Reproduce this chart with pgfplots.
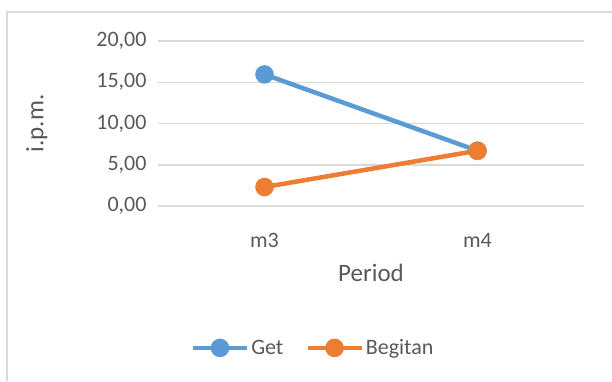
\documentclass[border=0pt]{standalone}
\usepackage{pgfplots}
\pgfplotsset{compat=1.18}
\usepackage{fontspec}
\setmainfont{Carlito}
\definecolor{txt}{HTML}{595959}
\definecolor{gridc}{HTML}{D9D9D9}
\definecolor{sblue}{HTML}{5B9BD5}
\definecolor{sorange}{HTML}{ED7D31}
\begin{document}
\begin{tikzpicture}
\useasboundingbox (0pt,0pt) rectangle (612pt,381pt);
\draw[gridc,line width=1.5pt] (7pt,0pt) -- (7pt,369pt) -- (612pt,369pt);
\begin{axis}[
  at={(158pt,175pt)}, anchor=south west,
  scale only axis, width=426pt, height=165pt,
  xmin=-0.5, xmax=1.5, ymin=0, ymax=20,
  xtick={0,1}, xticklabels={m3,m4},
  ytick={0,5,10,15,20},
  axis line style={draw=none},
  major tick length=0pt,
  ymajorgrids, grid style={gridc,line width=1.5pt},
  tick label style={font=\fontsize{22}{24}\selectfont, text=txt},
  yticklabel style={xshift=-8pt, /pgf/number format/.cd, fixed, fixed zerofill, precision=2, use comma, assume math mode=true},
  xticklabel style={yshift=-24pt},
  xlabel={Period}, ylabel={i.p.m.},
  label style={font=\fontsize{25}{27}\selectfont, text=txt},
  xlabel style={yshift=-9pt},
  ylabel style={yshift=42pt},
  legend columns=2,
  legend style={at={(0.364,-0.86)}, anchor=center, draw=none, fill=none,
    font=\fontsize{22}{24}\selectfont, text=txt,
    /tikz/every even column/.append style={column sep=20pt}},
  legend image code/.code={
     \draw[#1,mark=none] (0pt,0pt) -- (54pt,0pt);
     \fill[#1,mark=none] (27pt,0pt) circle (7pt);},
]
\addplot[sblue, line width=4.5pt, mark=*, mark size=7pt, mark options={solid}] coordinates {(0,15.95) (1,6.70)};
\addlegendentry{Get}
\addplot[sorange, line width=4.5pt, mark=*, mark size=7pt, mark options={solid}] coordinates {(0,2.30) (1,6.70)};
\addlegendentry{Begitan}
\end{axis}
\end{tikzpicture}
\end{document}
